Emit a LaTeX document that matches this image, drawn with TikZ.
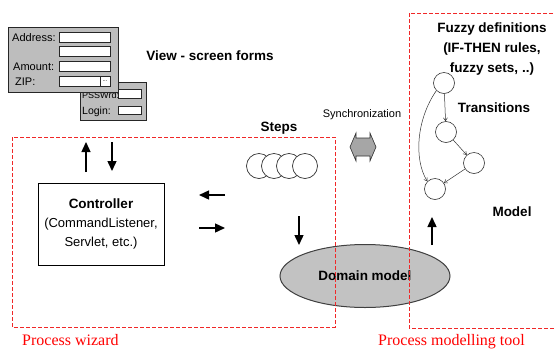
\documentclass[tikz,border=0pt]{standalone}
\usepackage{fontspec}
\setmainfont{Liberation Sans}
\newfontfamily\labelserif{Liberation Serif}
\usetikzlibrary{arrows.meta,shapes.geometric}
\definecolor{formgray}{HTML}{BDBDBD}
\definecolor{modelgray}{HTML}{C2C2C2}
\definecolor{syncgray}{HTML}{A6A6A6}
\definecolor{areared}{HTML}{F02828}
\begin{document}
\begin{tikzpicture}
[
    x=1pt, y=-1pt,
    formwin/.style={draw=black!85, line width=0.8pt, fill=formgray, inner sep=0pt},
    field/.style={draw=black!85, line width=0.7pt, fill=white, inner sep=0pt, minimum width=51pt, minimum height=10pt},
    formtext/.style={font=\fontsize{11}{12}\selectfont, inner sep=0pt, anchor=base west},
    title/.style={font=\bfseries\fontsize{13.5}{20}\selectfont, align=center, inner sep=0pt},
    bigarrow/.style={-{Triangle[length=10pt,width=9pt]}, line width=1.4pt},
    tarrow/.style={-{Straight Barb[length=3pt,width=4pt]}, line width=0.5pt, draw=black!80},
    stepcircle/.style={circle, draw=black!80, fill=white, line width=0.7pt, minimum size=25pt, inner sep=0pt},
    statecircle/.style={circle, draw=black!80, fill=white, line width=0.6pt, minimum size=21pt, inner sep=0pt},
    area/.style={draw=areared, line width=0.8pt, dash pattern=on 4pt off 2pt},
    arealabel/.style={font=\labelserif\fontsize{16}{18}\selectfont, text=red, inner sep=0pt, anchor=base west},
]
\useasboundingbox (0,0) rectangle (555,349);

% login form, behind
\node[formwin, minimum width=66pt, minimum height=38pt] (loginwin) at (113,101) {};
\node[field, minimum width=23pt, minimum height=9pt] (pwdfield) at (129.5,93.5) {};
\node[field, minimum width=23pt, minimum height=8pt] (loginfield) at (129.5,110.5) {};
\node[formtext, font=\fontsize{9}{10}\selectfont] (pwdlabel) at (82,98) {PSSWrd:};
\node[formtext, font=\fontsize{10.5}{12}\selectfont] (loginlabel) at (82,114) {Login:};

% address form
\node[formwin, minimum width=110pt, minimum height=65pt] (addrwin) at (63,59.5) {};
\node[field] (addrfield) at (84.5,37) {};
\node[field] (addrfieldb) at (84.5,51) {};
\node[field] (amountfield) at (84.5,66) {};
\node[field] (zipfield) at (84.5,81) {};
\node[field, minimum width=10pt, font=\fontsize{6}{6}\selectfont] (zipbtn) at (105,81) {...};
\node[formtext] (addrlabel) at (12,41) {Address:};
\node[formtext] (amountlabel) at (13,70) {Amount:};
\node[formtext] (ziplabel) at (15,85) {ZIP:};

\node[title] (viewlabel) at (210,56) {View - screen forms};

% controller
\node[draw, line width=0.9pt, minimum width=126pt, minimum height=82pt, align=center,
      font=\fontsize{13}{19}\selectfont] (controller) at (101,224)
      {{\bfseries\fontsize{13.5}{19}\selectfont Controller}\\(CommandListener,\\Servlet, etc.)};

\coordinate (upfrom) at (86,172);
\coordinate (upto) at (86,142);
\coordinate (downfrom) at (112,142);
\coordinate (downto) at (112,171);
\draw[bigarrow] (upfrom) -- (upto);
\draw[bigarrow] (downfrom) -- (downto);

\coordinate (backfrom) at (225,195);
\coordinate (backto) at (199,195);
\coordinate (forthfrom) at (199,228);
\coordinate (forthto) at (225,228);
\draw[bigarrow] (backfrom) -- (backto);
\draw[bigarrow] (forthfrom) -- (forthto);

% steps
\node[title] (stepslabel) at (279,128) {Steps};
\foreach \i/\x in {1/259,2/274,3/289,4/305}
    \node[stepcircle] (step\i) at (\x,166) {};

\coordinate (stepsdown) at (299,216);
\coordinate (modeltop) at (299,245);
\draw[bigarrow] (stepsdown) -- (modeltop);

% domain model
\node[ellipse, draw=black!75, line width=1pt, fill=modelgray, minimum width=170pt, minimum height=63pt,
      font=\bfseries\fontsize{13.5}{16}\selectfont] (domain) at (365,276) {Domain model};

% synchronization
\node[font=\fontsize{11}{12}\selectfont, inner sep=0pt] (synclabel) at (362,115) {Synchronization};
\coordinate (sync) at (363,147);
\draw[fill=syncgray, draw=black!80, line width=0.6pt] (sync) ++(-13,0) -- ++(6,-14) -- ++(0,5) -- ++(14,0)
    -- ++(0,-5) -- ++(6,14) -- ++(-6,14) -- ++(0,-5) -- ++(-14,0) -- ++(0,5) -- cycle;

% process model
\node[title] (fuzzylabel) at (492,49) {Fuzzy definitions\\(IF-THEN rules,\\fuzzy sets, ..)};
\node[title] (translabel) at (494,108) {Transitions};
\node[title] (modellabel) at (512,212) {Model};

\node[statecircle] (t1) at (444,83) {};
\node[statecircle] (t2) at (446,132) {};
\node[statecircle] (t3) at (474,163) {};
\node[statecircle] (t4) at (435,189) {};
\draw[tarrow] (t1) -- (t2);
\draw[tarrow] (t2) -- (t3);
\draw[tarrow] (t3) -- (t4);
\draw[tarrow] (t1.south west) .. controls (416,120) and (414,160) .. (t4.north west);

\coordinate (modelup) at (432,245);
\coordinate (modelto) at (432,217);
\draw[bigarrow] (modelup) -- (modelto);

% areas
\draw[area] (12,137) rectangle (335,327);
\draw[area] (409,13) rectangle (562,328);
\node[arealabel] (wizardlabel) at (22,345) {Process wizard};
\node[arealabel] (toollabel) at (378,345) {Process modelling tool};
\end{tikzpicture}
\end{document}
